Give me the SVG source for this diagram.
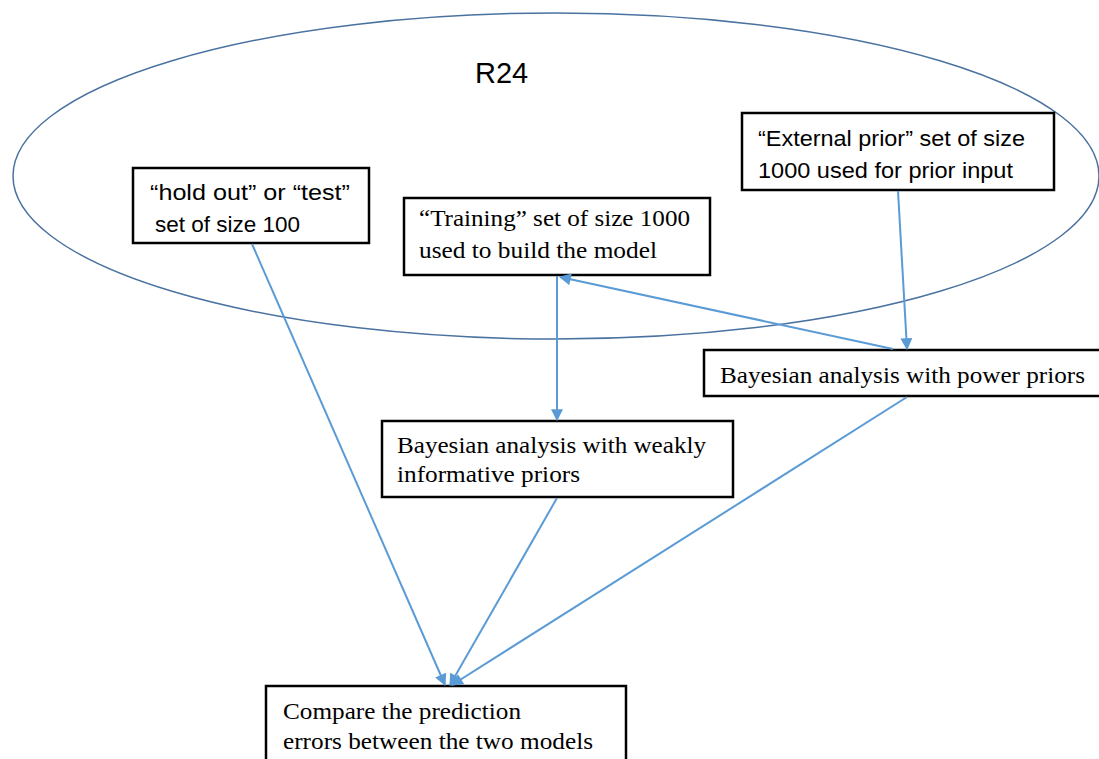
<svg xmlns="http://www.w3.org/2000/svg" width="1099" height="759" viewBox="0 0 1099 759">
<style>
.box{fill:#fff;stroke:#000;stroke-width:2.5}
.sans{font-family:"Liberation Sans",Arial,sans-serif;font-size:22px;fill:#000}
.serif{font-family:"Liberation Serif","Times New Roman",serif;font-size:23px;fill:#000}
.conn{stroke:#5B9BD5;stroke-width:2;fill:none;marker-end:url(#arr)}
</style>
<defs>
<marker id="arr" viewBox="0 0 10 10" refX="9" refY="5" markerWidth="13" markerHeight="12" markerUnits="userSpaceOnUse" orient="auto"><path d="M0,0 L10,5 L0,10 z" fill="#5B9BD5"/></marker>
</defs>
<rect width="1099" height="759" fill="#fff"/>
<g id="r24">
<ellipse cx="556" cy="176" rx="543" ry="163" fill="none" stroke="#4A72A0" stroke-width="1.5"/>
<text x="475" y="83" font-family="'Liberation Sans',Arial,sans-serif" font-size="29" fill="#000">R24</text>
</g>
<g id="holdout">
<rect class="box" x="133" y="168" width="236" height="75"/>
<text class="sans" x="150" y="200" textLength="200" lengthAdjust="spacingAndGlyphs">“hold out” or “test”</text>
<text class="sans" x="155" y="232" textLength="145" lengthAdjust="spacingAndGlyphs">set of size 100</text>
</g>
<g id="training">
<rect class="box" x="404" y="198" width="306" height="77"/>
<text class="serif" x="419" y="226" textLength="271" lengthAdjust="spacingAndGlyphs">“Training” set of size 1000</text>
<text class="serif" x="419" y="258" textLength="238" lengthAdjust="spacingAndGlyphs">used to build the model</text>
</g>
<g id="external">
<rect class="box" x="742" y="113" width="312" height="77"/>
<text class="sans" x="758" y="146" textLength="267" lengthAdjust="spacingAndGlyphs">“External prior” set of size</text>
<text class="sans" x="758" y="178" textLength="255" lengthAdjust="spacingAndGlyphs">1000 used for prior input</text>
</g>
<g id="power">
<rect class="box" x="704" y="350" width="400" height="46"/>
<text class="serif" x="720" y="383" textLength="365" lengthAdjust="spacingAndGlyphs">Bayesian analysis with power priors</text>
</g>
<g id="weakly">
<rect class="box" x="382" y="421" width="351" height="76"/>
<text class="serif" x="397" y="453" textLength="309" lengthAdjust="spacingAndGlyphs">Bayesian analysis with weakly</text>
<text class="serif" x="397" y="482" textLength="183" lengthAdjust="spacingAndGlyphs">informative priors</text>
</g>
<g id="compare">
<rect class="box" x="266" y="686" width="360" height="80"/>
<text class="serif" x="283" y="719" textLength="238" lengthAdjust="spacingAndGlyphs">Compare the prediction</text>
<text class="serif" x="283" y="749" textLength="310" lengthAdjust="spacingAndGlyphs">errors between the two models</text>
</g>
<g id="connectors">
<line class="conn" x1="252" y1="244" x2="445" y2="685"/>
<line class="conn" x1="557" y1="276" x2="557" y2="420"/>
<line class="conn" x1="893" y1="349" x2="560" y2="277"/>
<line class="conn" x1="898" y1="191" x2="907" y2="349"/>
<line class="conn" x1="557" y1="498" x2="450" y2="685"/>
<line class="conn" x1="907" y1="397" x2="452" y2="685"/>
</g>
</svg>
